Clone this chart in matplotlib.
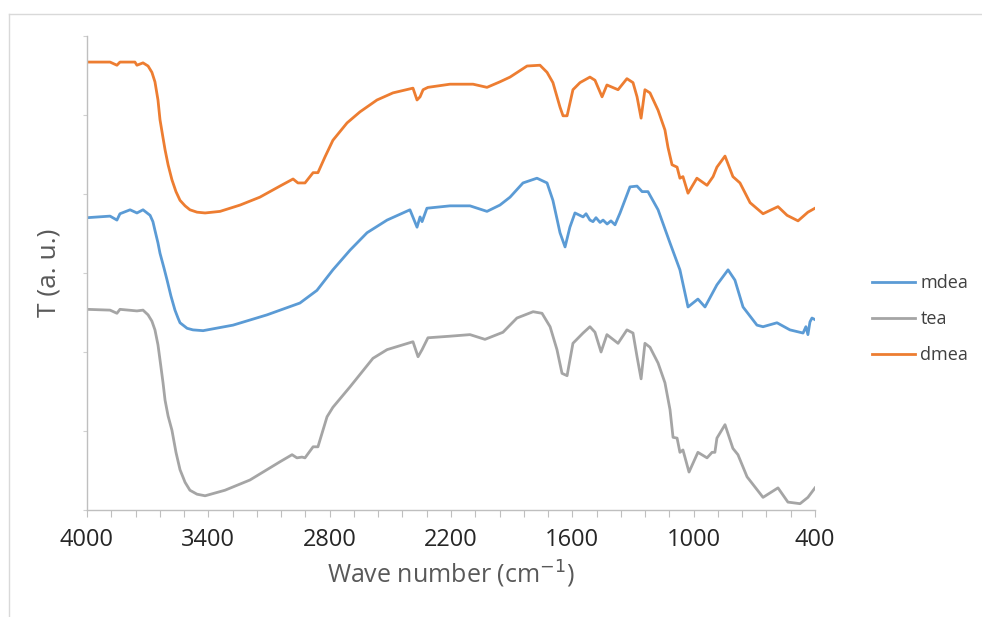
import matplotlib
matplotlib.use('Agg')
import matplotlib.pyplot as plt
from matplotlib.lines import Line2D

# FTIR spectra (wavenumber, transmittance in a.u.)
dmea_x = [4000, 3886, 3852, 3837, 3763, 3753, 3723, 3698, 3679, 3664, 3649, 3639, 3624, 3614,
          3599, 3580, 3560, 3540, 3515, 3491, 3456, 3416, 3342, 3243, 3145, 3046, 2981, 2957,
          2922, 2882, 2858, 2823, 2784, 2714, 2650, 2566, 2487, 2388, 2368, 2353, 2338, 2314,
          2205, 2091, 2022, 1958, 1908, 1824, 1760, 1725, 1696, 1661, 1646, 1626, 1597, 1562,
          1513, 1488, 1453, 1429, 1374, 1330, 1300, 1280, 1260, 1241, 1216, 1176, 1142, 1127,
          1107, 1082, 1068, 1053, 1028, 984, 934, 904, 885, 845, 806, 771, 721, 657, 583, 538,
          484, 435, 400]
dmea_y = [5.67, 5.67, 5.63, 5.67, 5.67, 5.63, 5.66, 5.62, 5.54, 5.42, 5.19, 4.94, 4.71, 4.56,
          4.37, 4.18, 4.03, 3.92, 3.85, 3.80, 3.77, 3.76, 3.78, 3.86, 3.96, 4.10, 4.19, 4.14,
          4.14, 4.27, 4.27, 4.47, 4.68, 4.90, 5.04, 5.19, 5.28, 5.34, 5.19, 5.23, 5.32, 5.35,
          5.39, 5.39, 5.35, 5.42, 5.48, 5.62, 5.63, 5.54, 5.41, 5.10, 4.99, 4.99, 5.32, 5.41,
          5.48, 5.44, 5.23, 5.38, 5.32, 5.46, 5.41, 5.23, 4.96, 5.32, 5.28, 5.06, 4.81, 4.59,
          4.37, 4.34, 4.20, 4.22, 4.01, 4.20, 4.11, 4.22, 4.34, 4.48, 4.22, 4.14, 3.89, 3.75,
          3.84, 3.73, 3.66, 3.77, 3.82]

mdea_x = [4000, 3886, 3852, 3837, 3787, 3753, 3723, 3688, 3674, 3664, 3649, 3639, 3619, 3604,
          3585, 3565, 3550, 3540, 3505, 3476, 3426, 3278, 3110, 2947, 2863, 2784, 2699, 2615,
          2516, 2403, 2368, 2353, 2343, 2319, 2205, 2106, 2022, 1958, 1908, 1844, 1775, 1725,
          1696, 1661, 1636, 1612, 1587, 1547, 1532, 1513, 1498, 1483, 1463, 1448, 1428, 1409,
          1389, 1364, 1315, 1280, 1255, 1226, 1176, 1117, 1068, 1028, 979, 944, 885, 830, 796,
          756, 687, 657, 588, 524, 459, 445, 435, 425, 415, 400]
mdea_y = [3.70, 3.72, 3.67, 3.75, 3.80, 3.76, 3.80, 3.73, 3.65, 3.54, 3.38, 3.25, 3.06, 2.91,
          2.71, 2.53, 2.43, 2.37, 2.30, 2.28, 2.27, 2.34, 2.47, 2.62, 2.78, 3.04, 3.29, 3.51,
          3.67, 3.80, 3.58, 3.71, 3.65, 3.82, 3.85, 3.85, 3.78, 3.86, 3.96, 4.14, 4.20, 4.14,
          3.92, 3.51, 3.33, 3.58, 3.76, 3.71, 3.75, 3.67, 3.65, 3.70, 3.64, 3.67, 3.62, 3.66,
          3.61, 3.76, 4.09, 4.10, 4.03, 4.03, 3.80, 3.38, 3.04, 2.57, 2.67, 2.57, 2.85, 3.04,
          2.91, 2.57, 2.34, 2.32, 2.37, 2.28, 2.24, 2.32, 2.22, 2.38, 2.43, 2.41]

tea_x = [4000, 3886, 3852, 3837, 3753, 3723, 3698, 3679, 3664, 3649, 3639, 3624, 3614, 3599,
         3580, 3560, 3540, 3515, 3491, 3456, 3416, 3318, 3194, 3046, 2986, 2962, 2937, 2922,
         2882, 2858, 2813, 2784, 2699, 2586, 2516, 2388, 2363, 2343, 2314, 2205, 2106, 2032,
         1943, 1874, 1794, 1750, 1710, 1676, 1651, 1626, 1597, 1547, 1513, 1488, 1458, 1429,
         1374, 1330, 1300, 1280, 1260, 1241, 1216, 1176, 1142, 1117, 1102, 1082, 1068, 1053,
         1023, 979, 934, 909, 895, 885, 845, 806, 781, 736, 657, 583, 534, 474, 435, 400]
tea_y = [2.54, 2.53, 2.49, 2.54, 2.52, 2.53, 2.47, 2.39, 2.28, 2.09, 1.90, 1.61, 1.39, 1.19,
         1.01, 0.73, 0.51, 0.35, 0.25, 0.20, 0.18, 0.25, 0.38, 0.61, 0.70, 0.66, 0.67, 0.66,
         0.80, 0.80, 1.18, 1.30, 1.56, 1.92, 2.03, 2.13, 1.94, 2.03, 2.18, 2.20, 2.22, 2.16,
         2.25, 2.43, 2.51, 2.49, 2.32, 2.03, 1.73, 1.70, 2.11, 2.24, 2.32, 2.25, 2.00, 2.22,
         2.11, 2.28, 2.24, 1.94, 1.66, 2.11, 2.06, 1.86, 1.61, 1.27, 0.92, 0.91, 0.73, 0.76,
         0.48, 0.73, 0.66, 0.73, 0.73, 0.91, 1.08, 0.78, 0.70, 0.42, 0.16, 0.28, 0.10, 0.08,
         0.16, 0.28]

x_ticks = [4000, 3400, 2800, 2200, 1600, 1000, 400]

plt.rcParams['font.family'] = ['Open Sans', 'DejaVu Sans']

fig = plt.figure(figsize=(9.82, 6.17), dpi=100)
ax = fig.add_axes([87 / 982, 1 - 510 / 617, (815 - 87) / 982, (510 - 36) / 617])

ax.plot(mdea_x, mdea_y, color='#5B9BD5', lw=2.0, label='mdea', solid_joinstyle='round')
ax.plot(tea_x, tea_y, color='#A5A5A5', lw=2.0, label='tea', solid_joinstyle='round')
ax.plot(dmea_x, dmea_y, color='#ED7D31', lw=2.0, label='dmea', solid_joinstyle='round')

ax.set_xlim(4000, 400)
ax.set_ylim(0, 6)
ax.set_xticks(x_ticks)
ax.set_xticks(range(400, 4001, 120), minor=True)
ax.set_yticks(range(0, 7))
ax.set_yticklabels([])
ax.tick_params(axis='x', which='both', direction='out', length=5, width=0.8,
               color='#BFBFBF', labelsize=17, labelcolor='#262626', pad=8)
ax.tick_params(axis='y', which='major', direction='out', length=3, width=0.8, color='#D0D0D0')

for side in ['top', 'right']:
    ax.spines[side].set_visible(False)
for side in ['left', 'bottom']:
    ax.spines[side].set_color('#BFBFBF')
    ax.spines[side].set_linewidth(1.0)

ax.set_xlabel('Wave number (cm$^{-1}$)', fontsize=18, color='#595959', labelpad=5)
ax.set_ylabel('T (a. u.)', fontsize=19, color='#595959', labelpad=12)

fig.legend(loc='center left', bbox_to_anchor=(872 / 982, 1 - 319 / 617), frameon=False,
           fontsize=13, handlelength=2.4, handletextpad=0.28, labelspacing=1.0,
           borderpad=0, borderaxespad=0, labelcolor='#404040')

# light chart-area border (top and left edges only visible)
fig.add_artist(Line2D([9 / 982, 1.0], [1 - 14 / 617, 1 - 14 / 617], transform=fig.transFigure,
                      color='#D9D9D9', lw=1.0))
fig.add_artist(Line2D([9 / 982, 9 / 982], [0, 1 - 14 / 617], transform=fig.transFigure,
                      color='#D9D9D9', lw=1.0))

fig.savefig('out.png', dpi=100)
